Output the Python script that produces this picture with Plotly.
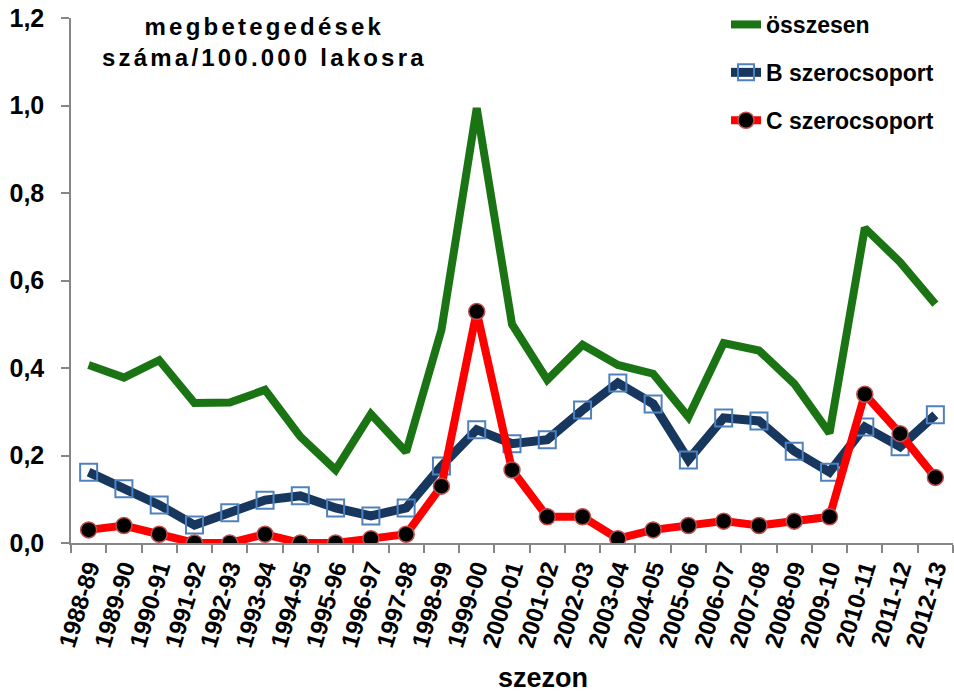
import plotly.graph_objects as go

seasons = ["1988-89", "1989-90", "1990-91", "1991-92", "1992-93", "1993-94", "1994-95",
           "1995-96", "1996-97", "1997-98", "1998-99", "1999-00", "2000-01", "2001-02",
           "2002-03", "2003-04", "2004-05", "2005-06", "2006-07", "2007-08", "2008-09",
           "2009-10", "2010-11", "2011-12", "2012-13"]

osszesen = [0.407, 0.378, 0.418, 0.320, 0.321, 0.350, 0.243, 0.167, 0.295, 0.208,
            0.487, 0.994, 0.500, 0.373, 0.453, 0.407, 0.387, 0.288, 0.457, 0.440,
            0.364, 0.251, 0.720, 0.642, 0.546]

b_szero = [0.162, 0.124, 0.087, 0.041, 0.069, 0.098, 0.108, 0.080, 0.062, 0.080,
           0.176, 0.259, 0.227, 0.236, 0.304, 0.366, 0.318, 0.190, 0.286, 0.279,
           0.210, 0.162, 0.265, 0.220, 0.293]

c_szero = [0.030, 0.040, 0.020, 0.000, 0.000, 0.020, 0.000, 0.000, 0.010, 0.020,
           0.130, 0.529, 0.167, 0.060, 0.060, 0.010, 0.030, 0.040, 0.050, 0.040,
           0.050, 0.060, 0.340, 0.250, 0.150]

y_ticks = [0, 0.2, 0.4, 0.6, 0.8, 1.0, 1.2]

FONT = "Liberation Sans, Arial, sans-serif"

fig = go.Figure()
fig.add_trace(go.Scatter(
    x=seasons, y=osszesen, name="összesen", mode="lines",
    line=dict(color="#1a7414", width=8), legendgroup="a"))
fig.add_trace(go.Scatter(
    x=seasons, y=b_szero, name="B szerocsoport", mode="lines+markers",
    line=dict(color="#17375E", width=9),
    marker=dict(symbol="square-open", size=17, color="#4F81BD", line=dict(width=2, color="#4F81BD")),
    legendgroup="b"))
fig.add_trace(go.Scatter(
    x=seasons, y=c_szero, name="C szerocsoport", mode="lines+markers",
    line=dict(color="#FF0000", width=8),
    marker=dict(symbol="circle", size=16, color="#000000", line=dict(width=1.5, color="#C0504D")),
    legendgroup="c"))

fig.add_annotation(
    text='<span style="letter-spacing:3.2px">megbetegedések<br>száma/100.000 lakosra</span>',
    xref="paper", yref="paper", x=(264 - 71) / 882, y=(543 - 42) / 525,
    xanchor="center", yanchor="middle", showarrow=False,
    font=dict(family=FONT, size=24, color="black", weight="bold"))

fig.add_annotation(
    text="szezon",
    xref="paper", yref="paper", x=(543 - 71) / 882, y=(543 - 678) / 525,
    xanchor="center", yanchor="middle", showarrow=False,
    font=dict(family=FONT, size=27, color="black", weight="bold"))

fig.update_layout(
    width=954, height=694,
    margin=dict(l=71, r=1, t=18, b=151, autoexpand=False),
    paper_bgcolor="white", plot_bgcolor="white",
    separators=", ",
    font=dict(family=FONT, size=22, color="black", weight="bold"),
    showlegend=True,
    legend=dict(x=(726 - 71) / 882, y=(543 - 3) / 525, xanchor="left", yanchor="top",
                bgcolor="rgba(0,0,0,0)", tracegroupgap=15,
                font=dict(family=FONT, size=23, color="black", weight="bold")),
    xaxis=dict(
        type="category", range=[-0.5, 24.5], tickson="boundaries", automargin=False,
        showline=True, linecolor="#868686", linewidth=1.5,
        ticks="outside", ticklen=8, tickcolor="#868686", tickwidth=1.5,
        tickangle=-73, showgrid=False, zeroline=False,
        tickfont=dict(family=FONT, size=24, color="black", weight="bold"),
    ),
    yaxis=dict(
        range=[0, 1.2], tickvals=y_ticks, tickformat=".1f", automargin=False,
        showline=True, linecolor="#868686", linewidth=1.5,
        ticks="outside", ticklen=8, tickcolor="#868686", tickwidth=1.5,
        ticklabelstandoff=12,
        showgrid=False, zeroline=False,
        tickfont=dict(family=FONT, size=25, color="black", weight="bold"),
    ),
)

fig.write_html(
    "out.html",
    config={"displayModeBar": False},
    post_script="document.body.style.margin='0';document.body.style.overflow='hidden';",
)
